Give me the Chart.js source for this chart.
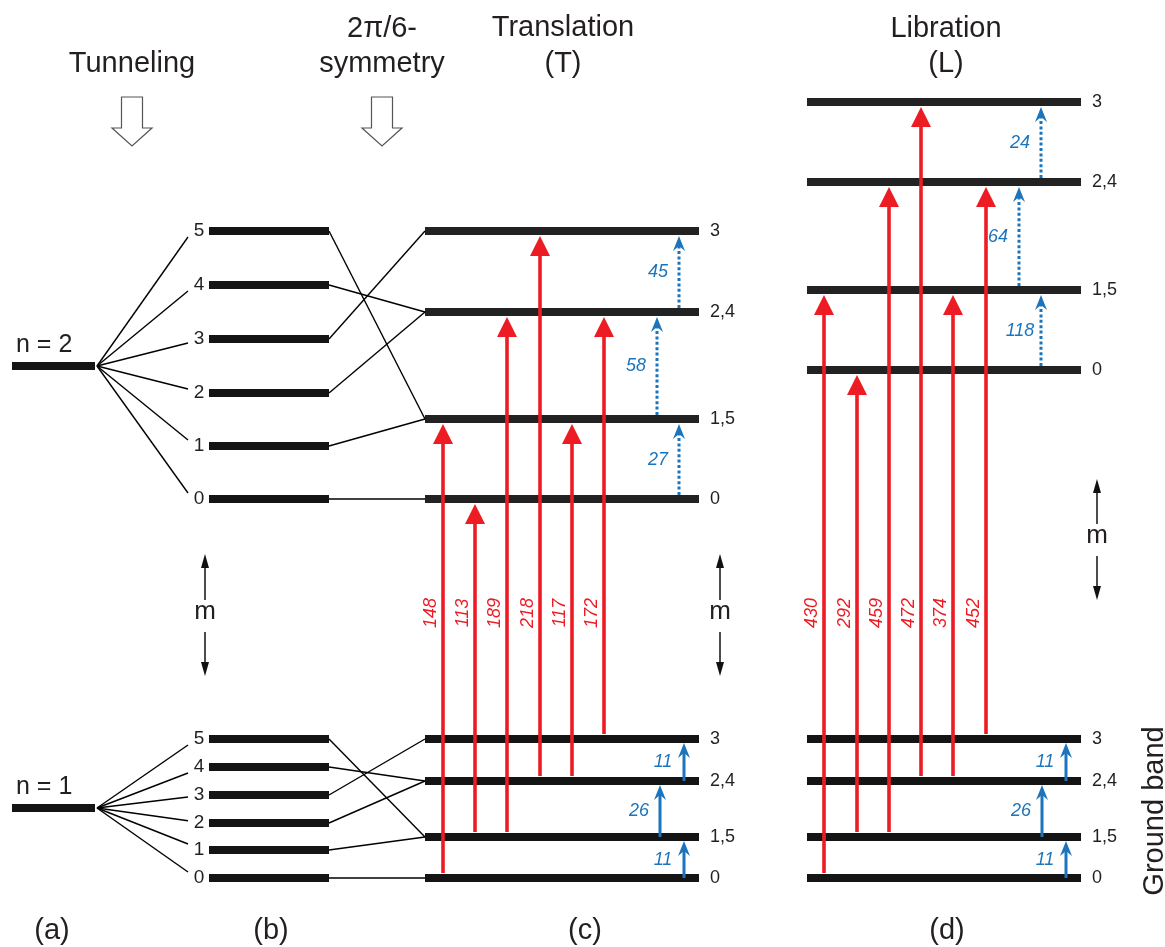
<!DOCTYPE html>
<html>
<head>
<meta charset="utf-8">
<title>Rotational tunneling levels</title>
<script src="https://cdn.jsdelivr.net/npm/chart.js@4.4.1/dist/chart.umd.min.js"></script>
<style>
  html, body { margin: 0; padding: 0; background: #fff; }
  #wrap { width: 1165px; height: 947px; position: relative; }
</style>
</head>
<body>
<div id="wrap"><canvas id="levelChart"></canvas></div>
<script>
// --- data (picture units, y grows downwards) ---
const tunnelY = [366, 808];
const tunnelLabels = ['n = 2', 'n = 1'];
const mLabels = ['0', '1', '2', '3', '4', '5'];
const upperB = [499, 446, 393, 339, 285, 231];
const lowerB = [878, 850, 823, 795, 767, 739];
const bToSym = [0, 1, 2, 3, 2, 1];
const symLabels = ['0', '1,5', '2,4', '3'];
const upperT = [499, 419, 312, 231];
const upperL = [370, 290, 182, 102];
const ground = [878, 837, 781, 739];

// red transitions (ground -> excited band)
const redFrom = [0, 1, 1, 2, 2, 3];
const redTo = [1, 0, 2, 3, 1, 2];
const redT = ['148', '113', '189', '218', '117', '172'];
const redL = ['430', '292', '459', '472', '374', '452'];
const redXT = [443, 475, 507, 540, 572, 604];
const redXL = [824, 857, 889, 921, 953, 986];

// blue transitions inside a band
const blueGround = ['11', '26', '11'];
const blueUpperT = ['27', '58', '45'];
const blueUpperL = ['118', '64', '24'];
const blueXT = [684, 660, 684];
const blueXL = [1066, 1042, 1066];
const dotXT = [679, 657, 679];
const dotXL = [1041, 1019, 1041];

const BAR = '#141414';
const INK = '#231f20';
const RED = '#ed1c24';
const BLUE = '#1c75bc';
const FONT = '"Liberation Sans", Arial, sans-serif';

function seg(x1, y1, x2, y2, width, color) {
    return {
        data: [{x: x1, y: y1}, {x: x2, y: y2}],
        showLine: true,
        borderWidth: width,
        borderColor: color,
        borderCapStyle: 'butt',
        pointRadius: 0,
        fill: false
    };
}

const datasets = [];
// (a) + fans to (b)
tunnelY.forEach((y, i) => {
    datasets.push(seg(12, y, 95, y, 8, BAR));
    const bl = i === 0 ? upperB : lowerB;
    bl.forEach(ly => {
        const d = y - ly;
        const off = Math.sign(d) * Math.min(6, Math.abs(d) * 0.15);
        datasets.push(seg(97, y, 188, ly + off, 1.4, '#000'));
    });
});
// (b) levels and links to (c)
[upperB, lowerB].forEach((bl, k) => {
    const sym = k === 0 ? upperT : ground;
    bl.forEach((y, m) => {
        datasets.push(seg(209, y, 329, y, 8, BAR));
        datasets.push(seg(329, y, 425, sym[bToSym[m]], 1.4, '#000'));
    });
});
// (c) and (d) levels
upperT.forEach(y => datasets.push(seg(425, y, 699, y, 8, '#222')));
ground.forEach(y => datasets.push(seg(425, y, 699, y, 8, BAR)));
upperL.forEach(y => datasets.push(seg(807, y, 1081, y, 8, '#222')));
ground.forEach(y => datasets.push(seg(807, y, 1081, y, 8, BAR)));

// arrows and text, placed through the chart scales
const annotate = {
    id: 'annotate',
    afterDatasetsDraw(chart) {
        const ctx = chart.ctx;
        const sx = chart.scales.x, sy = chart.scales.y;
        const px = v => sx.getPixelForValue(v);
        const py = v => sy.getPixelForValue(v);

        function text(str, x, y, size, opt) {
            opt = opt || {};
            ctx.save();
            ctx.font = (opt.italic ? 'italic ' : '') + size + 'px ' + FONT;
            ctx.fillStyle = opt.color || INK;
            ctx.textAlign = opt.align || 'center';
            ctx.textBaseline = opt.baseline || 'middle';
            ctx.translate(px(x), py(y));
            if (opt.rot) ctx.rotate(opt.rot);
            ctx.fillText(str, 0, 0);
            ctx.restore();
        }

        function redArrow(x, yFrom, yTip) {
            const X = px(x), A = py(yFrom), T = py(yTip);
            ctx.save();
            ctx.strokeStyle = RED;
            ctx.fillStyle = RED;
            ctx.lineWidth = 3.6;
            ctx.beginPath();
            ctx.moveTo(X, A);
            ctx.lineTo(X, T + 18);
            ctx.stroke();
            ctx.beginPath();
            ctx.moveTo(X, T);
            ctx.lineTo(X + 10, T + 20);
            ctx.lineTo(X - 10, T + 20);
            ctx.closePath();
            ctx.fill();
            ctx.restore();
        }

        function blueArrow(x, yFrom, yTip, dotted) {
            const X = px(x), A = py(yFrom), T = py(yTip);
            ctx.save();
            ctx.strokeStyle = BLUE;
            ctx.fillStyle = BLUE;
            ctx.lineWidth = 3;
            if (dotted) ctx.setLineDash([3, 2.4]);
            ctx.beginPath();
            ctx.moveTo(X, A);
            ctx.lineTo(X, T + 8);
            ctx.stroke();
            ctx.setLineDash([]);
            ctx.beginPath();
            ctx.moveTo(X, T);
            ctx.lineTo(X + 6, T + 15);
            ctx.lineTo(X, T + 10);
            ctx.lineTo(X - 6, T + 15);
            ctx.closePath();
            ctx.fill();
            ctx.restore();
        }

        function blackArrow(x, yFrom, yTip) {
            const X = px(x), A = py(yFrom), T = py(yTip);
            const dir = Math.sign(T - A);
            ctx.save();
            ctx.strokeStyle = '#111';
            ctx.fillStyle = '#111';
            ctx.lineWidth = 1.5;
            ctx.beginPath();
            ctx.moveTo(X, A);
            ctx.lineTo(X, T - dir * 8);
            ctx.stroke();
            ctx.beginPath();
            ctx.moveTo(X, T);
            ctx.lineTo(X + 4, T - dir * 14);
            ctx.lineTo(X - 4, T - dir * 14);
            ctx.closePath();
            ctx.fill();
            ctx.restore();
        }

        function hollowArrow(x) {
            const X = px(x);
            ctx.save();
            ctx.strokeStyle = '#555';
            ctx.fillStyle = '#fff';
            ctx.lineWidth = 1.2;
            ctx.beginPath();
            ctx.moveTo(X - 10.5, py(97));
            ctx.lineTo(X + 10.5, py(97));
            ctx.lineTo(X + 10.5, py(128));
            ctx.lineTo(X + 20, py(128));
            ctx.lineTo(X, py(146));
            ctx.lineTo(X - 20, py(128));
            ctx.lineTo(X - 10.5, py(128));
            ctx.closePath();
            ctx.fill();
            ctx.stroke();
            ctx.restore();
        }

        function mArrow(x, top, mid) {
            blackArrow(x, mid - 14, top);
            text('m', x, mid - 2, 26);
            blackArrow(x, mid + 18, mid + 62);
        }

        // red transitions in (c) and (d)
        redFrom.forEach((f, i) => {
            const t = redTo[i];
            redArrow(redXT[i], ground[f] - 5, upperT[t] + 5);
            redArrow(redXL[i], ground[f] - 5, upperL[t] + 5);
            text(redT[i], redXT[i] - 7, 613, 18, {italic: true, color: RED, rot: -Math.PI / 2, baseline: 'alphabetic'});
            text(redL[i], redXL[i] - 7, 613, 18, {italic: true, color: RED, rot: -Math.PI / 2, baseline: 'alphabetic'});
        });

        // blue transitions
        blueGround.forEach((v, i) => {
            const yA = ground[i], yB = ground[i + 1] + 4;
            blueArrow(blueXT[i], yA, yB, false);
            blueArrow(blueXL[i], yA, yB, false);
            text(v, blueXT[i] - 21, (yA + yB) / 2, 18, {italic: true, color: BLUE});
            text(v, blueXL[i] - 21, (yA + yB) / 2, 18, {italic: true, color: BLUE});
        });
        blueUpperT.forEach((v, i) => {
            const yA = upperT[i] - 4, yB = upperT[i + 1] + 5;
            blueArrow(dotXT[i], yA, yB, true);
            text(v, dotXT[i] - 21, (yA + yB) / 2, 18, {italic: true, color: BLUE});
        });
        blueUpperL.forEach((v, i) => {
            const yA = upperL[i] - 4, yB = upperL[i + 1] + 5;
            blueArrow(dotXL[i], yA, yB, true);
            text(v, dotXL[i] - 21, (yA + yB) / 2, 18, {italic: true, color: BLUE});
        });

        // level labels
        upperB.forEach((y, m) => text(mLabels[m], 199, y, 19));
        lowerB.forEach((y, m) => text(mLabels[m], 199, y, 19));
        symLabels.forEach((s, k) => {
            text(s, 710, upperT[k], 18, {align: 'left'});
            text(s, 710, ground[k], 18, {align: 'left'});
            text(s, 1092, upperL[k], 18, {align: 'left'});
            text(s, 1092, ground[k], 18, {align: 'left'});
        });
        tunnelLabels.forEach((s, i) => text(s, 16, tunnelY[i] - 14, 25, {align: 'left', baseline: 'alphabetic'}));

        // headings
        text('Tunneling', 132, 72, 29, {baseline: 'alphabetic'});
        text('2\u03c0/6-', 382, 37, 29, {baseline: 'alphabetic'});
        text('symmetry', 382, 72, 29, {baseline: 'alphabetic'});
        text('Translation', 563, 36, 29, {baseline: 'alphabetic'});
        text('(T)', 563, 72, 29, {baseline: 'alphabetic'});
        text('Libration', 946, 37, 29, {baseline: 'alphabetic'});
        text('(L)', 946, 72, 29, {baseline: 'alphabetic'});
        hollowArrow(132);
        hollowArrow(382);

        // m arrows
        mArrow(205, 554, 614);
        mArrow(720, 554, 614);
        mArrow(1097, 479, 538);

        // panel letters
        text('(a)', 52, 939, 29, {baseline: 'alphabetic'});
        text('(b)', 271, 939, 29, {baseline: 'alphabetic'});
        text('(c)', 585, 939, 29, {baseline: 'alphabetic'});
        text('(d)', 947, 939, 29, {baseline: 'alphabetic'});
        text('Ground band', 1163, 811, 29, {rot: -Math.PI / 2, baseline: 'alphabetic'});
    }
};

new Chart(document.getElementById('levelChart'), {
    type: 'scatter',
    data: { datasets: datasets },
    options: {
        responsive: true,
        maintainAspectRatio: false,
        animation: false,
        events: [],
        layout: { padding: 0 },
        plugins: { legend: { display: false }, tooltip: { enabled: false } },
        scales: {
            x: { type: 'linear', min: 0, max: 1165, display: false },
            y: { type: 'linear', min: 0, max: 947, reverse: true, display: false }
        }
    },
    plugins: [annotate]
});
</script>
</body>
</html>
